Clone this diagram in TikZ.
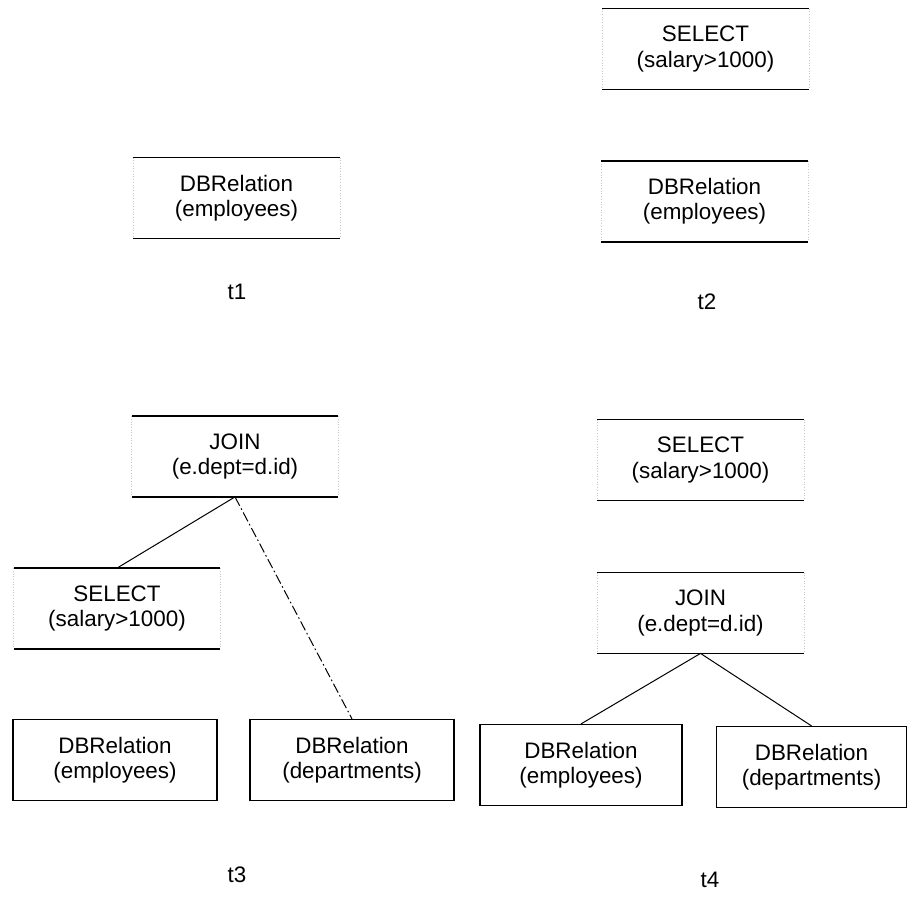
\documentclass[tikz,border=0pt]{standalone}
\usepackage{fontspec}
\setmainfont{Liberation Sans}
\begin{document}
\begin{tikzpicture}[x=0.5pt,y=-0.5pt,
  every node/.style={font=\fontsize{11.2}{12.6}\selectfont, align=center, inner sep=0pt},
  op/.style={minimum width=103pt, minimum height=40pt},
  relbox/.style={draw, line width=0.6pt, minimum width=102pt, minimum height=40.5pt},
  rule/.style={line width=0.8pt},
  side/.style={gray!45, line width=0.35pt, densely dotted},
  edge/.style={line width=0.5pt},
  faintedge/.style={line width=0.5pt, dash pattern=on 5pt off 1.5pt on 0.8pt off 1.5pt},
  caption/.style={font=\fontsize{11.2}{12.6}\selectfont}]
\useasboundingbox (0,0) rectangle (908,903);

% t1: a single relation
\node[op] (rel1) at (236.5,198) {DBRelation\\(employees)};
\node[caption] (cap1) at (237,292) {t1};

% t2: selection over the relation
\node[op] (sel2) at (705.5,49) {SELECT\\(salary>1000)};
\node[op] (rel2) at (704.5,201.5) {DBRelation\\(employees)};
\node[caption] (cap2) at (707,302) {t2};

% t3: join of a selection with a second relation
\node[op] (join3) at (235,456.5) {JOIN\\(e.dept=d.id)};
\node[op] (sel3) at (117,608.5) {SELECT\\(salary>1000)};
\node[relbox] (emp3) at (115,760) {DBRelation\\(employees)};
\node[relbox] (dep3) at (352,760) {DBRelation\\(departments)};
\node[caption] (cap3) at (237,875) {t3};

% t4: selection above the join
\node[op] (sel4) at (700.5,460) {SELECT\\(salary>1000)};
\node[op] (join4) at (700.5,613) {JOIN\\(e.dept=d.id)};
\node[relbox, minimum width=101pt] (emp4) at (581,765) {DBRelation\\(employees)};
\node[relbox, minimum width=95pt] (dep4) at (811.5,767) {DBRelation\\(departments)};
\node[caption] (cap4) at (710,880) {t4};

% operator boxes: solid rules above and below, faint sides
\foreach \n in {rel1,sel2,rel2,join3,sel3,sel4,join4}{
  \draw[side] (\n.north west) -- (\n.south west);
  \draw[side] (\n.north east) -- (\n.south east);
  \draw[rule] (\n.north west) -- (\n.north east);
  \draw[rule] (\n.south west) -- (\n.south east);
}

% tree edges
\draw[edge] (join3.south) -- (sel3.north);
\draw[faintedge] (join3.south) -- (dep3.north);
\draw[edge] (join4.south) -- (emp4.north);
\draw[edge] (join4.south) -- (dep4.north);
\end{tikzpicture}
\end{document}
